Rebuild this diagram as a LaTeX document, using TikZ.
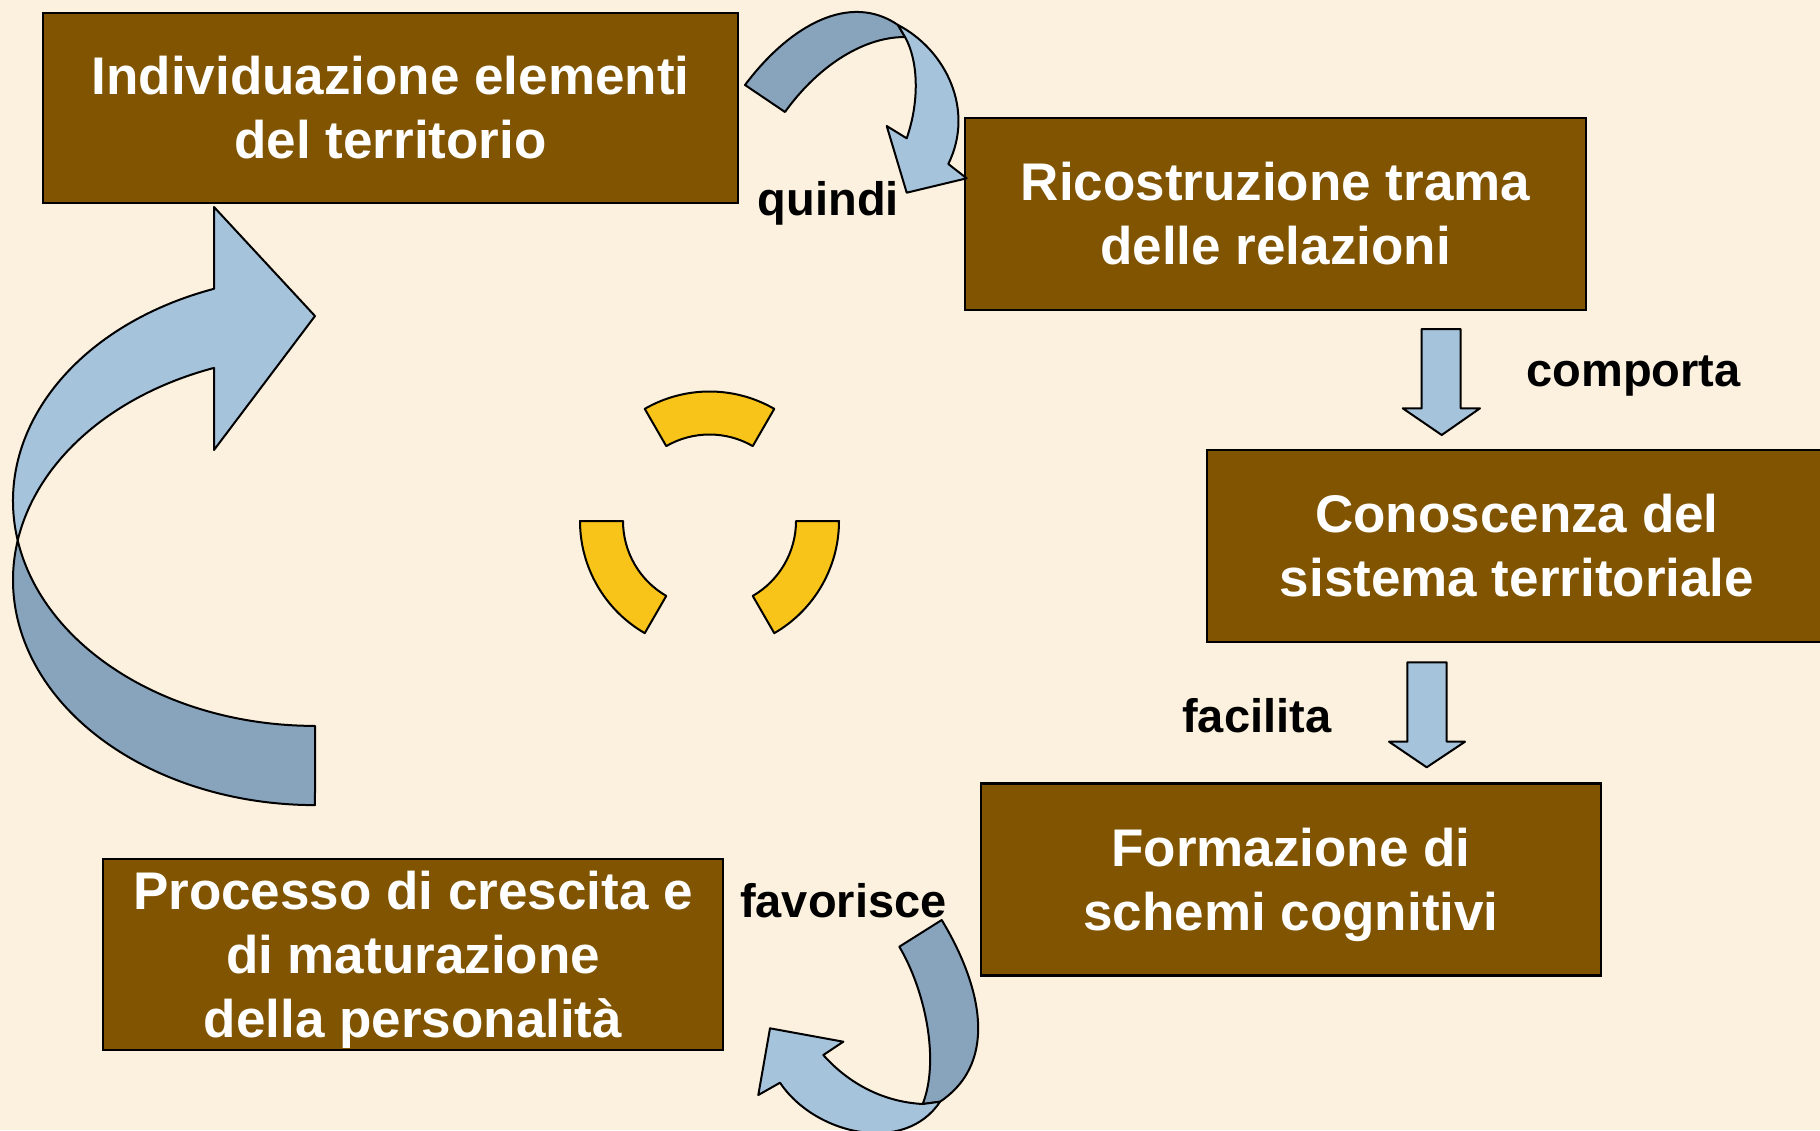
\documentclass[tikz,border=0pt]{standalone}
\usepackage{fontspec}
\setmainfont{Liberation Sans}
\definecolor{bg}{RGB}{251,241,222}
\definecolor{boxbrown}{RGB}{128,84,0}
\definecolor{bluelt}{RGB}{166,195,220}
\definecolor{bluedk}{RGB}{136,164,188}
\definecolor{yel}{RGB}{248,196,26}
\tikzset{
  box/.style={draw=black, line width=2.5pt, fill=boxbrown, text=white, align=center,
    inner sep=0pt, font=\fontsize{53}{64}\selectfont\bfseries},
  lbl/.style={text=black, inner sep=0pt, font=\fontsize{47}{56}\selectfont\bfseries},
  lightarrow/.style={draw=black, line width=2pt, fill=bluelt, line join=round},
  darkarrow/.style={draw=black, line width=2pt, fill=bluedk, line join=round},
  ring/.style={draw=black, line width=2pt, fill=yel, line join=round}
}
\begin{document}
\begin{tikzpicture}[x=1pt,y=1pt]
\useasboundingbox (0,0) rectangle (1820,-1130);
\fill[bg] (0,0) rectangle (1820,-1130);
\clip (0,0) rectangle (1820,-1130);

% boxes
\node[box, minimum width=695pt, minimum height=190pt] (b1) at (390.5,-108) {Individuazione elementi\\del territorio};
\node[box, minimum width=621pt, minimum height=192pt] (b2) at (1275.5,-214) {Ricostruzione trama\\delle relazioni};
\node[box, minimum width=620pt, minimum height=192pt] (b3) at (1517,-546) {Conoscenza del\\sistema territoriale};
\node[box, minimum width=620pt, minimum height=192pt] (b4) at (1291,-879.5) {Formazione di\\\smash{schemi cognitivi}};
\node[box, minimum width=620pt, minimum height=191pt] (b5) at (413,-954.5) {Processo di crescita e\\di maturazione\\\smash{della personalità}};

% labels
\node[lbl, anchor=base] (lq) at (828.3,-215.5) {quindi};
\node[lbl, anchor=base] (lc) at (1633.7,-386.7) {comporta};
\node[lbl, anchor=base] (lf) at (1256.7,-732.5) {facilita};
\node[lbl, anchor=base] (lv) at (843.3,-917.5) {favorisce};

% straight down arrows
\draw[lightarrow] (1421.7,-329) -- (1460.7,-329) -- (1460.7,-408.3) -- (1480,-408.3)
  -- (1441.7,-435) -- (1402.7,-408.3) -- (1421.7,-408.3) -- cycle;
\draw[lightarrow] (1407.3,-662.3) -- (1446.7,-662.3) -- (1446.7,-741.7) -- (1465,-741.7)
  -- (1426.7,-767.3) -- (1389,-741.7) -- (1407.3,-741.7) -- cycle;

% curved arrow "quindi"
\draw[darkarrow] (745,-85) .. controls (790,-25) and (850,8) .. (898,-25) -- (905,-37)
  .. controls (860,-37) and (815,-70) .. (785,-112) -- cycle;
\draw[lightarrow] (898,-25) .. controls (946,-50) and (975,-110) .. (948.3,-164)
  -- (966.7,-178.3) -- (906.7,-192.7) -- (886.7,-126) -- (906.7,-138.3)
  .. controls (920,-100) and (918,-60) .. (905,-37) -- cycle;

% curved arrow "favorisce"
\draw[darkarrow] (899.3,-946.7) -- (941.7,-920) .. controls (978,-980) and (1002,-1060) .. (940,-1101.7)
  -- (922.7,-1104) .. controls (940,-1060) and (925,-990) .. (899.3,-946.7) -- cycle;
\draw[lightarrow] (770,-1028.3) -- (843.3,-1041.7) -- (823.3,-1055)
  .. controls (850,-1085) and (885,-1102) .. (922.7,-1104) -- (940,-1101.7)
  .. controls (905,-1155) and (815,-1135) .. (780,-1082.7) -- (758.3,-1095) -- cycle;

% big curved arrow on the left
\draw[darkarrow] (17.7,-540.45) arc[start angle=169.88, end angle=270, x radius=302, y radius=225.1]
  -- (315,-725.9) arc[start angle=270, end angle=190.12, x radius=302, y radius=225.1] -- cycle;
\draw[lightarrow] (214,-288.8) arc[start angle=109.54, end angle=190.12, x radius=302, y radius=225.1]
  arc[start angle=169.88, end angle=109.54, x radius=302, y radius=225.1]
  -- (214,-450) -- (315,-316) -- (214,-207) -- cycle;

% yellow ring segments
\coordinate (rc) at (709.5,-521);
\foreach \a in {60,180,300}{
  \draw[ring] (rc) ++(\a:129.5) arc[start angle=\a, end angle=\a+60, radius=129.5]
    -- ++(\a+240:43) arc[start angle=\a+60, end angle=\a, radius=86.5] -- cycle;
}
\end{tikzpicture}
\end{document}
